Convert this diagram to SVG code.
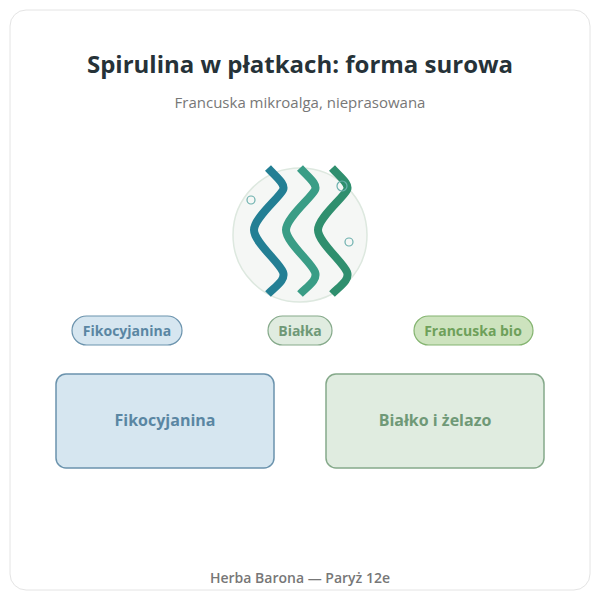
<svg xmlns="http://www.w3.org/2000/svg" width="600" height="600" viewBox="0 0 600 600">
<style>
.t{font-family:"Open Sans","Liberation Sans",sans-serif}
.w{fill:none;stroke-width:8;stroke-linecap:butt}
.pill{stroke-width:1.2}
</style>
<defs>
<path id="wave" d="M0,0 C8,9 18,16 15,22 C11,30 -14,50 -14,62 C-14,74 11,94 15,104 C18,112 8,118 0,126"/>
</defs>
<rect width="600" height="600" fill="#ffffff"/>
<rect x="10" y="10" width="580" height="580" rx="16" fill="#fff" stroke="#e4e4e4"/>
<text class="t" x="300" y="73" text-anchor="middle" font-size="24" font-weight="bold" fill="#263238">Spirulina w płatkach: forma surowa</text>
<text class="t" x="300" y="108" text-anchor="middle" font-size="15" fill="#777">Francuska mikroalga, nieprasowana</text>
<g id="algae">
<circle cx="300" cy="235" r="67" fill="#f5f7f5" stroke="#dde8df" stroke-width="1.5"/>
<use href="#wave" class="w" stroke="#237f94" transform="translate(268,168)"/>
<use href="#wave" class="w" stroke="#3a9d86" transform="translate(300,168)"/>
<use href="#wave" class="w" stroke="#2f8f6e" transform="translate(332,168)"/>
<circle cx="251" cy="200" r="4" fill="none" stroke="#6cb0ad" stroke-width="1.2"/>
<circle cx="342" cy="186" r="5" fill="none" stroke="#6cb0ad" stroke-width="1.2"/>
<circle cx="349" cy="242" r="4" fill="none" stroke="#6cb0ad" stroke-width="1.2"/>
</g>
<g id="tag1"><rect class="pill" x="72" y="316" width="110" height="29" rx="14.5" fill="#d6e6f0" stroke="#6b93ad"/><text class="t" x="127" y="336" text-anchor="middle" font-size="14" font-weight="bold" fill="#5a86a3">Fikocyjanina</text></g>
<g id="tag2"><rect class="pill" x="268" y="316" width="64" height="29" rx="14.5" fill="#e0ece0" stroke="#85a98a"/><text class="t" x="300" y="336" text-anchor="middle" font-size="14" font-weight="bold" fill="#6f9977">Białka</text></g>
<g id="tag3"><rect class="pill" x="414" y="316" width="119" height="29" rx="14.5" fill="#cde3be" stroke="#84b470"/><text class="t" x="473" y="336" text-anchor="middle" font-size="14" font-weight="bold" fill="#6ea05a">Francuska bio</text></g>
<g id="box1"><rect x="56" y="374" width="218" height="94" rx="10" fill="#d6e6f0" stroke="#6b93ad" stroke-width="1.5"/><text class="t" x="165" y="426" text-anchor="middle" font-size="16" font-weight="bold" fill="#5a86a3">Fikocyjanina</text></g>
<g id="box2"><rect x="326" y="374" width="218" height="94" rx="10" fill="#e0ece0" stroke="#85a98a" stroke-width="1.5"/><text class="t" x="435" y="426" text-anchor="middle" font-size="16" font-weight="bold" fill="#6f9977">Białko i żelazo</text></g>
<g id="connectors"/>
<text class="t" x="300" y="583" text-anchor="middle" font-size="14" font-weight="600" fill="#777">Herba Barona — Paryż 12e</text>
</svg>
